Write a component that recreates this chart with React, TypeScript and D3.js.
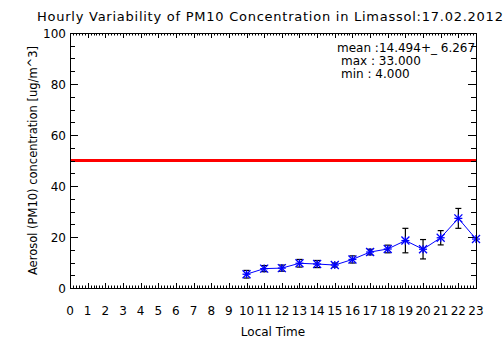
import React, { useEffect } from "react";
import * as d3 from "d3";

const TITLE = "Hourly Variability of PM10 Concentration in Limassol:17.02.2012";
const X_LABEL = "Local Time";
const Y_LABEL = "Aerosol (PM10) concentration [ug/m^3]";
const hours = [10, 11, 12, 13, 14, 15, 16, 17, 18, 19, 20, 21, 22, 23];
const values = [5.4, 7.6, 7.8, 9.7, 9.4, 9.0, 11.2, 14.1, 15.3, 18.6, 15.2, 19.7, 27.3, 19.2];
const errors = [1.5, 1.2, 1.2, 1.5, 1.4, 0.8, 1.4, 1.1, 1.5, 4.8, 3.8, 2.8, 3.9, 0];
const xTicks = d3.range(0, 24);
const yTickLabels = [0, 20, 40, 60, 80, 100];
const limitValue = 50;
const statsLines = ["mean :14.494+_ 6.267", "max : 33.000", "min : 4.000"];

const W = 504, H = 361;
const L = 70, R = 476, T = 33, B = 288;

export default function App() {
  useEffect(() => {
    document.body.style.margin = "0";
  }, []);
  const x = d3.scaleLinear().domain([0, 23]).range([L, R]);
  const y = d3.scaleLinear().domain([0, 100]).range([B, T]);
  const line = d3.line<number>().x((_, i) => x(hours[i])).y((d) => y(d));
  const font = "'DejaVu Sans', sans-serif";

  const minorX = d3.range(0, 23 * 6 + 1).map((i) => i / 6);
  const yMinor = d3.range(0, 101, 5);

  return (
    <svg width={W} height={H} style={{ display: "block", background: "#fff" }} fontFamily={font}>
      <rect x={0} y={0} width={W} height={H} fill="#fff" />
      <text x={37} y={21} fontSize={13} letterSpacing={0.75} fill="#000">{TITLE}</text>

      {/* limit line */}
      <line x1={x(0)} x2={x(23)} y1={y(limitValue)} y2={y(limitValue)} stroke="#ff0000" strokeWidth={3} />

      {/* x ticks bottom & top */}
      {minorX.map((v, i) => {
        const major = i % 6 === 0;
        const len = major ? 5 : 2.5;
        const px = Math.round(x(v)) + 0.5;
        return (
          <g key={"xt" + i}>
            <line x1={px} x2={px} y1={B} y2={B - len} stroke="#000" strokeWidth={1} />
            <line x1={px} x2={px} y1={T} y2={T + len} stroke="#000" strokeWidth={1} />
          </g>
        );
      })}
      {/* y ticks left & right */}
      {yMinor.map((v) => {
        const major = v % 20 === 0;
        const len = major ? 8 : 5;
        const py = Math.round(y(v)) + 0.5;
        return (
          <g key={"yt" + v}>
            <line x1={L} x2={L + len} y1={py} y2={py} stroke="#000" strokeWidth={1} />
            <line x1={R} x2={R - len} y1={py} y2={py} stroke="#000" strokeWidth={1} />
          </g>
        );
      })}

      {/* error bars */}
      {hours.map((h, i) =>
        errors[i] > 0 ? (
          <g key={"e" + h} stroke="#000" strokeWidth={1.2}>
            <line x1={x(h)} x2={x(h)} y1={y(values[i] - errors[i])} y2={y(values[i] + errors[i])} />
            <line x1={x(h) - 3} x2={x(h) + 3} y1={y(values[i] - errors[i])} y2={y(values[i] - errors[i])} />
            <line x1={x(h) - 3} x2={x(h) + 3} y1={y(values[i] + errors[i])} y2={y(values[i] + errors[i])} />
          </g>
        ) : null
      )}

      {/* data line */}
      <path d={line(values) || ""} fill="none" stroke="#0000ff" strokeWidth={1} />
      {hours.map((h, i) => {
        const cx = x(h), cy = y(values[i]), s = 4;
        return (
          <g key={"p" + h} stroke="#0000ff" strokeWidth={1.3}>
            <line x1={cx - s} x2={cx + s} y1={cy} y2={cy} />
            <line x1={cx} x2={cx} y1={cy - s} y2={cy + s} />
            <line x1={cx - s} x2={cx + s} y1={cy - s} y2={cy + s} />
            <line x1={cx - s} x2={cx + s} y1={cy + s} y2={cy - s} />
          </g>
        );
      })}

      {/* frame */}
      <rect x={L + 0.5} y={T + 0.5} width={R - L} height={B - T} fill="none" stroke="#000" strokeWidth={1} />

      {/* y labels */}
      {yTickLabels.map((v) => (
        <text key={"yl" + v} x={L - 4} y={y(v) + 5} fontSize={12} textAnchor="end" fill="#000">{v}</text>
      ))}
      {/* x labels */}
      {xTicks.map((v) => (
        <text key={"xl" + v} x={x(v)} y={315} fontSize={12} textAnchor="middle" fill="#000">{v}</text>
      ))}
      <text x={(L + R) / 2} y={336} fontSize={12} textAnchor="middle" fill="#000">{X_LABEL}</text>
      <text transform={`translate(37,${(T + B) / 2}) rotate(-90)`} fontSize={11.5} textAnchor="middle" fill="#000">{Y_LABEL}</text>

      {/* stats */}
      {statsLines.map((s, i) => (
        <text key={"s" + i} x={i === 0 ? 337 : 341} y={52 + i * 13} fontSize={12} fill="#000">{s}</text>
      ))}
    </svg>
  );
}
